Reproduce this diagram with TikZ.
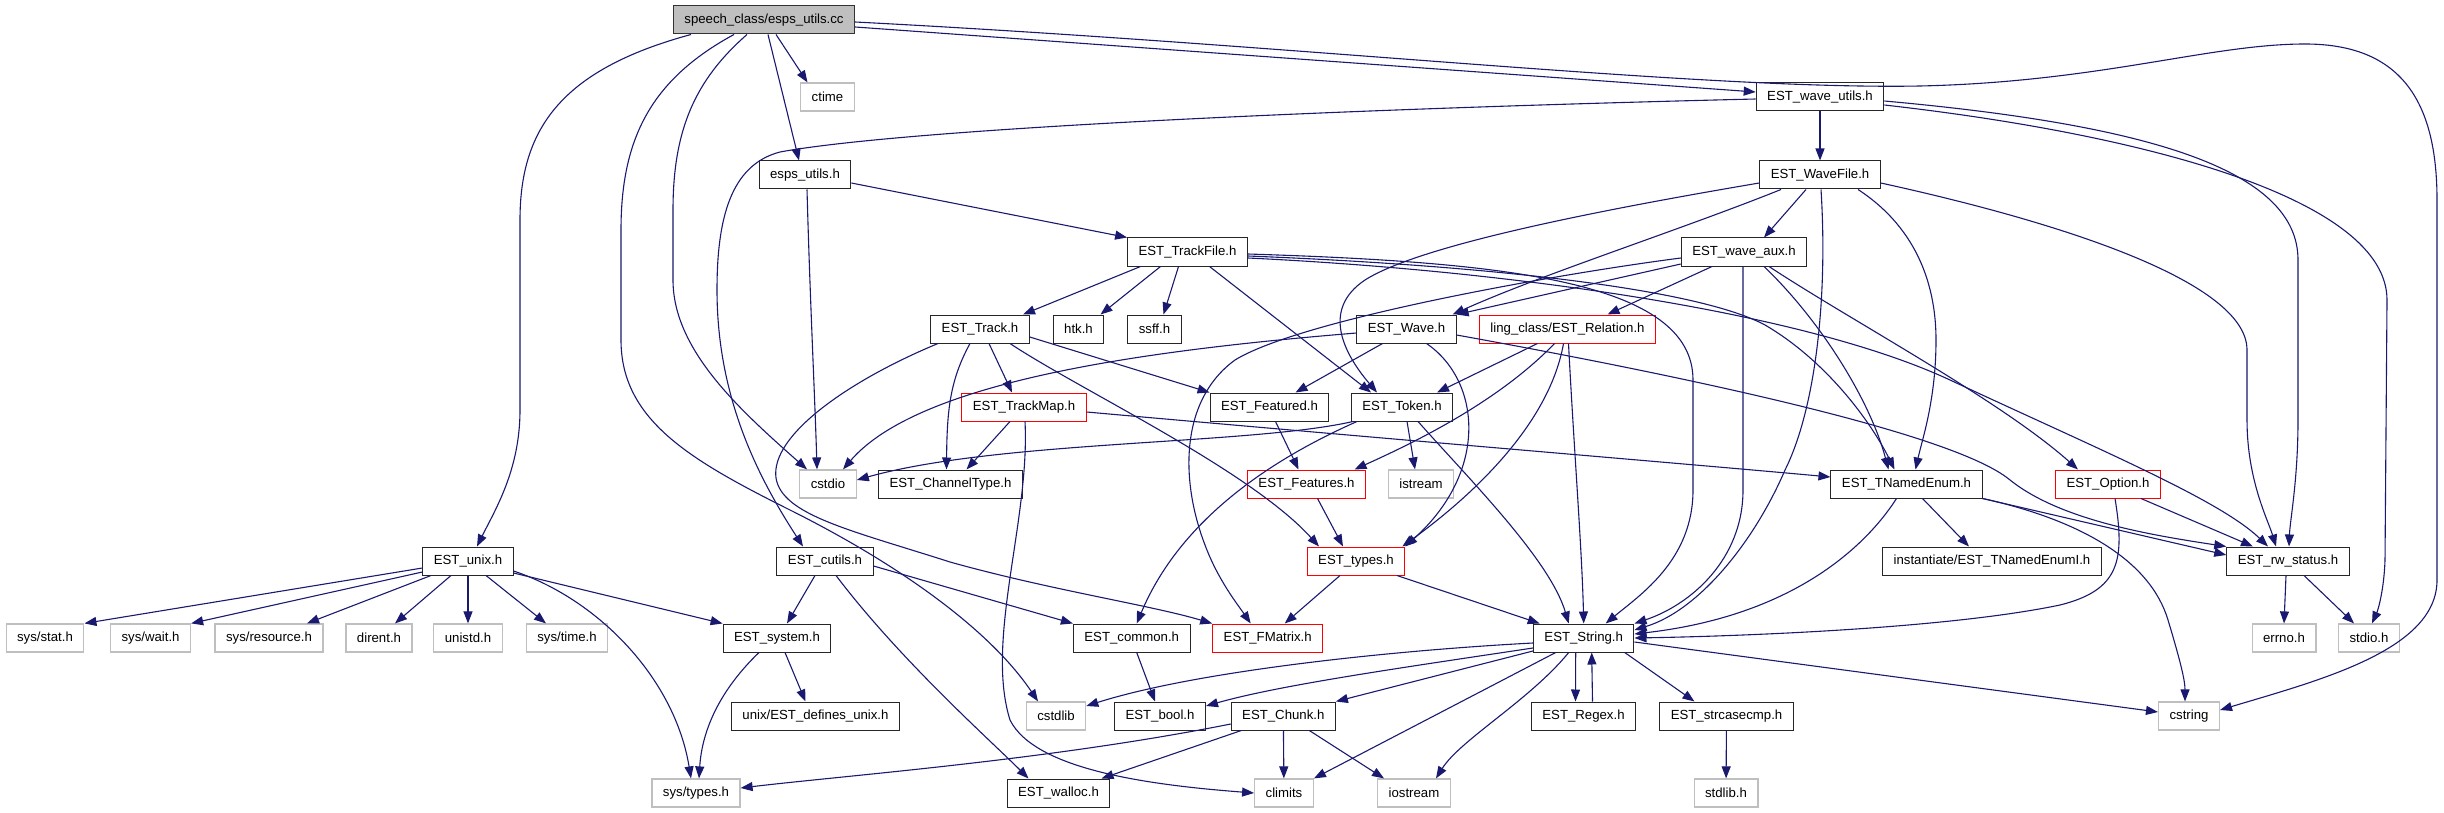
\documentclass[tikz,border=0pt]{standalone}
\usepackage{fontspec}
\setmainfont{Liberation Sans}
\usetikzlibrary{arrows.meta}
\definecolor{edgeblue}{RGB}{25,25,112}
\definecolor{nodegray}{RGB}{191,191,191}

\begin{document}
\begin{tikzpicture}[x=1pt, y=-1pt,
  font=\fontsize{13.2pt}{15pt}\selectfont,
  hdr/.style={draw=black!85, line width=1pt, fill=white, inner xsep=11pt, inner ysep=0pt, minimum height=28pt},
  syshdr/.style={hdr, draw=nodegray, line width=1.2pt},
  redhdr/.style={hdr, draw=red},
  roothdr/.style={hdr, draw=black!80, fill=nodegray},
  edge/.style={edgeblue, line width=1.1pt, -{Triangle[length=12pt,width=9pt]}}]
  \useasboundingbox (0,0) rectangle (2444,813);

  % ---- Rows 0-3 ----
  \node[roothdr] (root) at (764,20) {speech\_class/esps\_utils.cc};
  \node[syshdr] (ctime) at (827.5,97) {ctime};
  \node[hdr] (wutils) at (1820,97) {EST\_wave\_utils.h};
  \node[hdr] (espsh) at (805,175) {esps\_utils.h};
  \node[hdr] (wavefile) at (1820,175) {EST\_WaveFile.h};
  \node[hdr] (trackfile) at (1187.5,252) {EST\_TrackFile.h};
  \node[hdr] (waveaux) at (1744,252) {EST\_wave\_aux.h};

  % ---- Rows 4-6 ----
  \node[hdr] (track) at (980,329) {EST\_Track.h};
  \node[hdr] (htk) at (1078.5,329) {htk.h};
  \node[hdr] (ssff) at (1154.5,329) {ssff.h};
  \node[hdr] (wave) at (1406.5,329) {EST\_Wave.h};
  \node[redhdr] (relation) at (1567.5,329) {ling\_class/EST\_Relation.h};
  \node[redhdr] (trackmap) at (1024,407) {EST\_TrackMap.h};
  \node[hdr] (featured) at (1269.5,407) {EST\_Featured.h};
  \node[hdr] (token) at (1402,407) {EST\_Token.h};
  \node[syshdr] (cstdio) at (828,484) {cstdio};
  \node[hdr] (chantype) at (950.5,484) {EST\_ChannelType.h};
  \node[redhdr] (features) at (1306.5,484) {EST\_Features.h};
  \node[syshdr] (istream) at (1421,484) {istream};
  \node[hdr] (tnamedenum) at (1906.5,484) {EST\_TNamedEnum.h};
  \node[redhdr] (option) at (2108,484) {EST\_Option.h};

  % ---- Rows 7-10 ----
  \node[hdr] (unix) at (468,561) {EST\_unix.h};
  \node[hdr] (cutils) at (825,561) {EST\_cutils.h};
  \node[redhdr] (types) at (1356,561) {EST\_types.h};
  \node[hdr] (tnei) at (1992,561) {instantiate/EST\_TNamedEnumI.h};
  \node[hdr] (rwstatus) at (2288,561) {EST\_rw\_status.h};
  \node[syshdr] (sysstat) at (45,638) {sys/stat.h};
  \node[syshdr] (syswait) at (150.6,638) {sys/wait.h};
  \node[syshdr] (sysres) at (269,638) {sys/resource.h};
  \node[syshdr] (dirent) at (379,638) {dirent.h};
  \node[syshdr] (unistd) at (468,638) {unistd.h};
  \node[syshdr] (systime) at (567,638) {sys/time.h};
  \node[hdr] (system) at (777,638) {EST\_system.h};
  \node[hdr] (common) at (1131.7,638) {EST\_common.h};
  \node[redhdr] (fmatrix) at (1267.7,638) {EST\_FMatrix.h};
  \node[hdr] (string) at (1583.7,638) {EST\_String.h};
  \node[syshdr] (errno) at (2284,638) {errno.h};
  \node[syshdr] (stdio) at (2369,638) {stdio.h};
  \node[hdr] (defunix) at (815.5,716) {unix/EST\_defines\_unix.h};
  \node[syshdr] (cstdlib) at (1056,716) {cstdlib};
  \node[hdr] (bool) at (1160,716) {EST\_bool.h};
  \node[hdr] (chunk) at (1283.3,716) {EST\_Chunk.h};
  \node[hdr] (regex) at (1583.5,716) {EST\_Regex.h};
  \node[hdr] (strcase) at (1726.5,716) {EST\_strcasecmp.h};
  \node[syshdr] (cstring) at (2189,716) {cstring};
  \node[syshdr] (systypes) at (696,793) {sys/types.h};
  \node[hdr] (walloc) at (1058.5,793) {EST\_walloc.h};
  \node[syshdr] (climits) at (1284,793) {climits};
  \node[syshdr] (iostream) at (1414,793) {iostream};
  \node[syshdr] (stdlib) at (1726,793) {stdlib.h};

  % ---- Includes of esps_utils.cc ----
  \draw[edge] ([xshift=-73]root.south) .. controls (560,70) and (520,130) .. (520,220) -- (520,410) .. controls (520,470) and (495,510) .. ([xshift=9]unix.north);
  \draw[edge] ([xshift=-30]root.south) .. controls (650,80) and (621,140) .. (621,230) -- (621,340) .. controls (621,420) and (690,460) .. (790,510) .. controls (900,565) and (990,630) .. ([xshift=-18]cstdlib.north);
  \draw[edge] ([xshift=-17]root.south) .. controls (695,80) and (673,130) .. (673,210) -- (673,280) .. controls (673,350) and (740,410) .. ([xshift=-21]cstdio.north);
  \draw[edge] ([xshift=4]root.south) -- ([xshift=-6]espsh.north);
  \draw[edge] ([xshift=12]root.south) -- ([xshift=-20]ctime.north);
  \draw[edge] ([yshift=-7]root.east) -- ([yshift=5]wutils.west);
  \draw[edge] ([yshift=-2]root.east) .. controls (1300,45) and (1700,90) .. (1920,86) .. controls (2100,82) and (2210,44) .. (2305,44) .. controls (2400,44) and (2437,100) .. (2437,200) -- (2437,580) .. controls (2437,650) and (2320,680) .. ([yshift=6]cstring.east);

  % ---- esps_utils.h ----
  \draw[edge] ([yshift=-8]espsh.east) -- (trackfile.north west);
  \draw[edge] ([xshift=2]espsh.south) .. controls (810,300) and (815,400) .. ([xshift=-11]cstdio.north);

  % ---- EST_wave_utils.h ----
  \draw[edge] (wutils) -- (wavefile);
  \draw[edge] ([yshift=-2]wutils.west) .. controls (1300,110) and (900,130) .. (780,152) .. controls (730,165) and (717,220) .. (717,290) .. controls (717,400) and (760,480) .. ([xshift=-22]cutils.north);
  \draw[edge] ([yshift=-4]wutils.east) .. controls (2150,125) and (2298,170) .. (2298,260) -- (2298,420) .. controls (2298,480) and (2290,520) .. ([xshift=1]rwstatus.north);
  \draw[edge] ([yshift=-8]wutils.east) .. controls (2150,135) and (2387,200) .. (2387,300) -- (2385,560) .. controls (2384,590) and (2378,610) .. ([xshift=3]stdio.north);

  % ---- EST_WaveFile.h ----
  \draw[edge] ([yshift=-8]wavefile.west) .. controls (1600,210) and (1420,245) .. (1365,280) .. controls (1320,310) and (1345,355) .. ([xshift=-25]token.north);
  \draw[edge] ([xshift=-39]wavefile.south) .. controls (1680,230) and (1540,275) .. ([xshift=-4]wave.north east);
  \draw[edge] ([xshift=-14]wavefile.south) -- ([xshift=20]waveaux.north);
  \draw[edge] ([xshift=1]wavefile.south) .. controls (1828,300) and (1815,410) .. (1785,470) .. controls (1755,540) and (1700,610) .. ([yshift=8]string.east);
  \draw[edge] ([xshift=38]wavefile.south) .. controls (1920,230) and (1936,290) .. (1936,340) .. controls (1936,400) and (1922,440) .. ([xshift=9]tnamedenum.north);
  \draw[edge] ([yshift=-8]wavefile.east) .. controls (2050,220) and (2247,280) .. (2247,350) -- (2247,420) .. controls (2247,480) and (2268,520) .. ([xshift=-12]rwstatus.north);

  % ---- EST_wave_aux.h ----
  \draw[edge] ([yshift=-6]waveaux.west) .. controls (1550,275) and (1300,320) .. (1235,360) .. controls (1180,400) and (1180,480) .. (1205,545) .. controls (1218,580) and (1238,605) .. ([xshift=-17]fmatrix.north);
  \draw[edge] ([yshift=-12]waveaux.west) -- (wave.north east);
  \draw[edge] ([xshift=-32]waveaux.south) -- ([xshift=40]relation.north);
  \draw[edge] ([xshift=-1]waveaux.south) -- (1743,490) .. controls (1743,560) and (1690,605) .. (string.north east);
  \draw[edge] ([xshift=20]waveaux.south) .. controls (1820,320) and (1870,400) .. ([xshift=-18]tnamedenum.north);
  \draw[edge] ([xshift=25]waveaux.south) .. controls (1850,320) and (2000,400) .. ([xshift=-30]option.north);

  % ---- EST_TrackFile.h ----
  \draw[edge] ([xshift=-47]trackfile.south) -- ([xshift=43]track.north);
  \draw[edge] ([xshift=-27]trackfile.south) -- ([xshift=22]htk.north);
  \draw[edge] ([xshift=-9]trackfile.south) -- ([xshift=9]ssff.north);
  \draw[edge] ([xshift=22]trackfile.south) -- ([xshift=-31]token.north);
  \draw[edge] ([yshift=-2]trackfile.east) .. controls (1500,262) and (1693,280) .. (1693,380) -- (1693,490) .. controls (1693,560) and (1640,595) .. ([xshift=22]string.north);
  \draw[edge] ([yshift=-4]trackfile.east) .. controls (1500,266) and (1700,290) .. (1765,325) .. controls (1825,360) and (1870,420) .. ([xshift=-12]tnamedenum.north);
  \draw[edge] ([yshift=-6]trackfile.east) .. controls (1500,270) and (1800,310) .. (1950,380) .. controls (2100,450) and (2220,500) .. ([xshift=-20]rwstatus.north);

  % ---- EST_Track.h ----
  \draw[edge] ([xshift=-42]track.south) .. controls (850,380) and (770,435) .. (776,478) .. controls (782,515) and (850,530) .. (950,562) .. controls (1050,590) and (1150,605) .. (fmatrix.north west);
  \draw[edge] ([xshift=-10]track.south) .. controls (950,380) and (947,410) .. ([xshift=-4]chantype.north);
  \draw[edge] ([xshift=9]track.south) -- ([xshift=-12]trackmap.north);
  \draw[edge] ([xshift=30]track.south) .. controls (1080,390) and (1250,470) .. ([xshift=-37]types.north);
  \draw[edge] ([yshift=-8]track.east) -- (featured.north west);

  % ---- EST_TrackMap.h ----
  \draw[edge] ([xshift=-14]trackmap.south) -- ([xshift=16]chantype.north);
  \draw[edge] ([yshift=-5]trackmap.east) .. controls (1400,440) and (1700,465) .. ([yshift=7]tnamedenum.west);
  \draw[edge] ([xshift=1]trackmap.south) .. controls (1030,520) and (985,640) .. (1010,720) .. controls (1035,770) and (1150,785) .. (climits.west);

  % ---- EST_Featured.h, EST_Token.h ----
  \draw[edge] ([xshift=6]featured.south) -- ([xshift=-8]features.north);
  \draw[edge] ([xshift=-49]token.south) .. controls (1250,445) and (1000,440) .. ([yshift=4]cstdio.east);
  \draw[edge] ([xshift=-45]token.south) .. controls (1270,460) and (1180,520) .. ([xshift=5]common.north);
  \draw[edge] ([xshift=5]token.south) -- ([xshift=-6]istream.north);
  \draw[edge] ([xshift=16]token.south) .. controls (1470,480) and (1550,560) .. ([xshift=-15]string.north);

  % ---- EST_Wave.h ----
  \draw[edge] ([yshift=-4]wave.west) .. controls (1150,350) and (920,380) .. ([xshift=15]cstdio.north);
  \draw[edge] ([xshift=-24]wave.south) -- ([xshift=26]featured.north);
  \draw[edge] ([xshift=20]wave.south) .. controls (1480,380) and (1490,470) .. (types.north east);
  \draw[edge] ([yshift=-6]wave.east) .. controls (1650,370) and (1950,430) .. (2010,480) .. controls (2060,520) and (2150,535) .. (rwstatus.north west);

  % ---- ling_class/EST_Relation.h ----
  \draw[edge] ([xshift=-30]relation.south) -- ([xshift=35]token.north);
  \draw[edge] ([xshift=-13]relation.south) .. controls (1500,400) and (1420,440) .. ([xshift=48]features.north);
  \draw[edge] ([xshift=-4]relation.south) .. controls (1550,420) and (1480,490) .. ([xshift=-3]types.north east);
  \draw[edge] ([xshift=1]relation.south) .. controls (1574,450) and (1582,550) .. (string.north);

  % ---- EST_Features.h, EST_types.h ----
  \draw[edge] ([xshift=11]features.south) -- ([xshift=-13]types.north);
  \draw[edge] ([xshift=-16]types.south) -- ([xshift=17]fmatrix.north);
  \draw[edge] ([xshift=41]types.south) -- ([xshift=-44]string.north);

  % ---- EST_cutils.h ----
  \draw[edge] ([xshift=-10]cutils.south) -- ([xshift=10]system.north);
  \draw[edge] ([yshift=-5]cutils.east) -- (common.north west);
  \draw[edge] ([xshift=11]cutils.south) .. controls (900,660) and (990,740) .. ([xshift=-30]walloc.north);

  % ---- EST_unix.h ----
  \draw[edge] ([yshift=-7]unix.west) -- (sysstat.north east);
  \draw[edge] ([yshift=-11]unix.west) -- (syswait.north east);
  \draw[edge] ([xshift=-37]unix.south) -- ([xshift=38]sysres.north);
  \draw[edge] ([xshift=-17]unix.south) -- ([xshift=16]dirent.north);
  \draw[edge] (unix) -- (unistd);
  \draw[edge] ([xshift=18]unix.south) -- ([xshift=-21]systime.north);
  \draw[edge] ([yshift=-12]unix.east) -- (system.north west);
  \draw[edge] ([yshift=-10]unix.east) .. controls (600,600) and (675,680) .. ([xshift=-5]systypes.north);

  % ---- EST_system.h, EST_common.h ----
  \draw[edge] ([xshift=-18]system.south) .. controls (720,690) and (702,730) .. ([xshift=3]systypes.north);
  \draw[edge] ([xshift=8]system.south) -- ([xshift=-10]defunix.north);
  \draw[edge] ([xshift=5]common.south) -- ([xshift=-5]bool.north);

  % ---- EST_String.h ----
  \draw[edge] ([yshift=-5]string.west) .. controls (1400,650) and (1200,670) .. ([yshift=10]cstdlib.east);
  \draw[edge] ([yshift=-10]string.west) .. controls (1400,668) and (1280,685) .. ([yshift=10]bool.east);
  \draw[edge] ([yshift=-13]string.west) -- (chunk.north east);
  \draw[edge] ([xshift=-28]string.south) -- (climits.north east);
  \draw[edge] ([xshift=-15]string.south) .. controls (1530,700) and (1460,740) .. ([xshift=22]iostream.north);
  \draw[edge] ([xshift=-8]string.south) -- ([xshift=-8]regex.north);
  \draw[edge] ([xshift=41]string.south) -- ([xshift=-32]strcase.north);
  \draw[edge] ([yshift=-4]string.east) -- ([yshift=4]cstring.west);
  \draw[edge] ([xshift=9]regex.north) -- ([xshift=8]string.south);

  % ---- EST_Chunk.h, EST_strcasecmp.h ----
  \draw[edge] ([yshift=-8]chunk.west) .. controls (1050,760) and (850,775) .. ([yshift=5]systypes.east);
  \draw[edge] ([xshift=-42]chunk.south) -- ([xshift=43]walloc.north);
  \draw[edge] (chunk) -- (climits);
  \draw[edge] ([xshift=26]chunk.south) -- ([xshift=-30]iostream.north);
  \draw[edge] (strcase) -- (stdlib);

  % ---- EST_TNamedEnum.h, EST_Option.h ----
  \draw[edge] ([xshift=-10]tnamedenum.south) .. controls (1870,540) and (1800,615) .. ([yshift=4]string.east);
  \draw[edge] ([xshift=16]tnamedenum.south) -- ([xshift=-23]tnei.north);
  \draw[edge] (tnamedenum.south east) -- ([yshift=6]rwstatus.west);
  \draw[edge] (tnamedenum.south east) .. controls (2080,520) and (2150,560) .. (2168,620) .. controls (2180,660) and (2185,680) .. ([xshift=-4]cstring.north);
  \draw[edge] ([xshift=7]option.south) .. controls (2125,560) and (2120,590) .. (2060,605) .. controls (1950,628) and (1750,636) .. (string.east);
  \draw[edge] ([xshift=33]option.south) -- ([xshift=-35]rwstatus.north);

  % ---- EST_rw_status.h ----
  \draw[edge] ([xshift=-2]rwstatus.south) -- (errno.north);
  \draw[edge] ([xshift=16]rwstatus.south) -- ([xshift=-15]stdio.north);
\end{tikzpicture}
\end{document}
